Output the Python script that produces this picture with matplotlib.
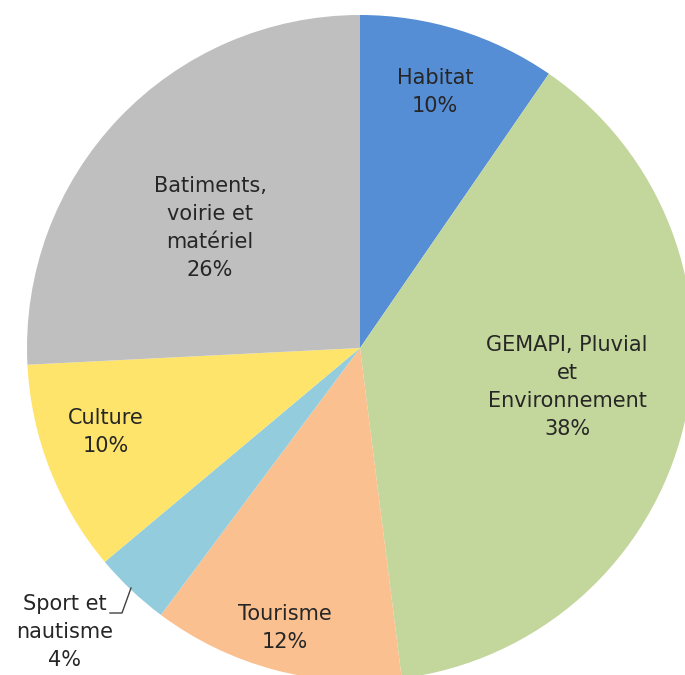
import matplotlib
matplotlib.use("Agg")
import matplotlib.pyplot as plt

# shares of the budget (%), clockwise from 12 o'clock
categories = ["Habitat", "GEMAPI, Pluvial\net\nEnvironnement", "Tourisme",
              "Sport et\nnautisme", "Culture", "Batiments,\nvoirie et\nmatériel"]
values = [9.6, 38.4, 12.2, 3.7, 10.3, 25.8]
colors = ["#558ED5", "#C3D69B", "#FAC090", "#93CDDD", "#FEE46A", "#BFBFBF"]

# label centres in pixel coordinates (y from top)
label_pos = [(435, 92), (567, 387), (285, 628), (65, 632), (106, 432), (210, 228)]

W, H = 685, 675
fig = plt.figure(figsize=(W / 100, H / 100), dpi=100)
ax = fig.add_axes([0, 0, 1, 1])

ax.pie(values, colors=colors, startangle=90, counterclock=False,
       radius=333, center=(360, H - 348),
       wedgeprops=dict(linewidth=0))

ax.set_xlim(0, W)
ax.set_ylim(0, H)
ax.set_aspect("equal")
ax.axis("off")

for name, v, (x, y) in zip(categories, values, label_pos):
    ax.text(x, H - y, f"{name}\n{round(v)}%", ha="center", va="center",
            fontsize=15, color="#262626", linespacing=1.48)

# leader line for the small slice
ax.plot([110, 122, 131], [H - 613, H - 613, H - 588], color="#404040", lw=1)

fig.savefig("out.png", dpi=100)
